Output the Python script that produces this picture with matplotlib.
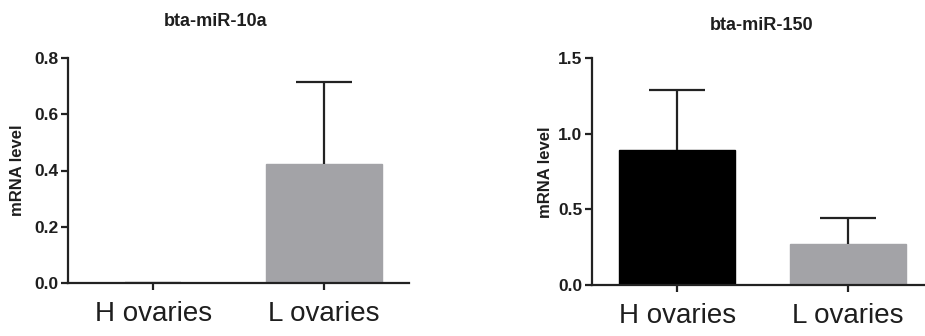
import numpy as np
import matplotlib.pyplot as plt

plt.rcParams['font.family'] = ['Liberation Sans', 'DejaVu Sans']

groups = ['H ovaries', 'L ovaries']
bar_colors = ['#000000', '#a3a3a7']

titles = ['bta-miR-10a', 'bta-miR-150']
means = [[0.0, 0.423], [0.889, 0.27]]
errs = [[0.0, 0.29], [0.40, 0.17]]
yticks = [[0.0, 0.2, 0.4, 0.6, 0.8], [0.0, 0.5, 1.0, 1.5]]
ylims = [0.8, 1.5]

W, H = 925, 336
fig = plt.figure(figsize=(W / 100, H / 100), dpi=100)

# axes boxes in pixels: left, top, right, bottom
boxes = [(68, 58, 409, 283), (592, 58, 933, 285)]
title_pos = [(216, 21), (762, 25)]
ylab_pos = [(18, 170), (545, 172)]
txt = '#1e1e1e'

for i in range(2):
    l, t, r, b = boxes[i]
    ax = fig.add_axes([l / W, 1 - b / H, (r - l) / W, (b - t) / H])
    x = np.arange(len(groups))
    ax.bar(x, means[i], width=0.68, color=bar_colors, edgecolor=bar_colors,
           linewidth=1, zorder=2)
    lower = np.zeros(len(groups))
    eb = ax.errorbar(x, means[i], yerr=[lower, errs[i]], fmt='none', ecolor='#222222',
                     elinewidth=1.6, capsize=20, capthick=1.6, zorder=3)
    # only the upper half is shown, drop the lower caps
    eb[1][0].set_visible(False)
    ax.set_xlim(-0.5, 1.5)
    ax.set_ylim(0, ylims[i])
    ax.set_yticks(yticks[i])
    ax.set_yticklabels(['%.1f' % v for v in yticks[i]], fontsize=12.5,
                       fontweight='bold', color=txt)
    ax.set_xticks(x)
    ax.set_xticklabels(groups, fontsize=20, color=txt)
    ax.tick_params(axis='y', length=5, width=1.6, pad=2, color='#222222')
    ax.tick_params(axis='x', length=5, width=1.6, pad=8, color='#222222')
    for s in ['top', 'right']:
        ax.spines[s].set_visible(False)
    for s in ['left', 'bottom']:
        ax.spines[s].set_linewidth(1.6)
        ax.spines[s].set_color('#222222')
    ax.patch.set_alpha(0)
    fig.text(title_pos[i][0] / W, 1 - title_pos[i][1] / H, titles[i],
             ha='center', va='center', fontsize=13, fontweight='bold', color=txt)
    fig.text(ylab_pos[i][0] / W, 1 - ylab_pos[i][1] / H, 'mRNA level',
             ha='center', va='center', rotation=90, fontsize=12,
             fontweight='bold', color=txt)

fig.savefig('out.png', dpi=100)
